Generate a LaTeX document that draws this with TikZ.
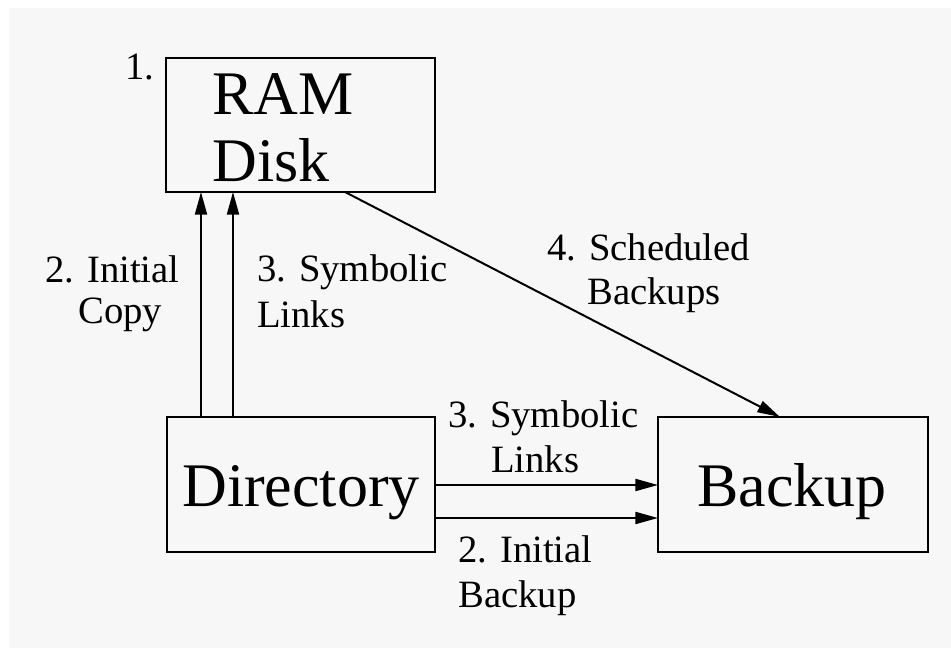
\documentclass[tikz,border=0pt]{standalone}
\usepackage{fontspec}
\setmainfont{Liberation Serif}
\usetikzlibrary{arrows.meta}
\definecolor{bggray}{HTML}{F7F7F7}
\tikzset{
  box/.style={draw=black, line width=1.5pt, inner sep=0pt, outer sep=0pt},
  arr/.style={line width=1.5pt, -{Triangle[length=17pt,width=9pt]}},
  big/.style={inner sep=0pt, anchor=base west, font=\fontsize{46.5}{49}\selectfont},
  small/.style={inner sep=0pt, anchor=base west, font=\fontsize{29}{34}\selectfont},
}
\begin{document}
\begin{tikzpicture}[x=0.75pt, y=-0.75pt]
\useasboundingbox (0,0) rectangle (951,648);
\fill[bggray] (9,8) rectangle (965,665);
% boxes
\node[box, minimum width=269*0.75pt, minimum height=134*0.75pt] (ram) at (300.5,125) {};
\node[box, minimum width=268*0.75pt, minimum height=135*0.75pt] (dir) at (301,484.5) {};
\node[box, minimum width=270*0.75pt, minimum height=135*0.75pt] (bak) at (793,484.5) {};
% box texts
\node[small] (n1) at (125,80) {1.};
\node[big] (ram1) at (212,115) {RAM};
\node[big] (ram2) at (212,182) {Disk};
\node[big] (dirt) at (182,507) {Directory};
\node[big] (bakt) at (697,507) {Backup};
% helper coordinates
\coordinate (xa) at (201,0);
\coordinate (xb) at (233,0);
\coordinate (xc) at (345,0);
\coordinate (xd) at (780,0);
\coordinate (ya) at (0,485);
\coordinate (yb) at (0,518);
% connectors
\draw[arr] (dir.north -| xa) -- (ram.south -| xa);
\draw[arr] (dir.north -| xb) -- (ram.south -| xb);
\draw[arr] (ram.south -| xc) -- (bak.north -| xd);
\draw[arr] (dir.east |- ya) -- (bak.west |- ya);
\draw[arr] (dir.east |- yb) -- (bak.west |- yb);
% labels
\node[small] (l2a) at (45,283) {2. Initial};
\node[small] (l2b) at (78,324) {Copy};
\node[small] (l3a) at (257,282) {3. Symbolic};
\node[small] (l3b) at (257,328) {Links};
\node[small] (l4a) at (547,261) {4. Scheduled};
\node[small] (l4b) at (587,305) {Backups};
\node[small] (l5a) at (448,428) {3. Symbolic};
\node[small] (l5b) at (491,473) {Links};
\node[small] (l6a) at (458,563) {2. Initial};
\node[small] (l6b) at (458,608) {Backup};
\end{tikzpicture}
\end{document}
